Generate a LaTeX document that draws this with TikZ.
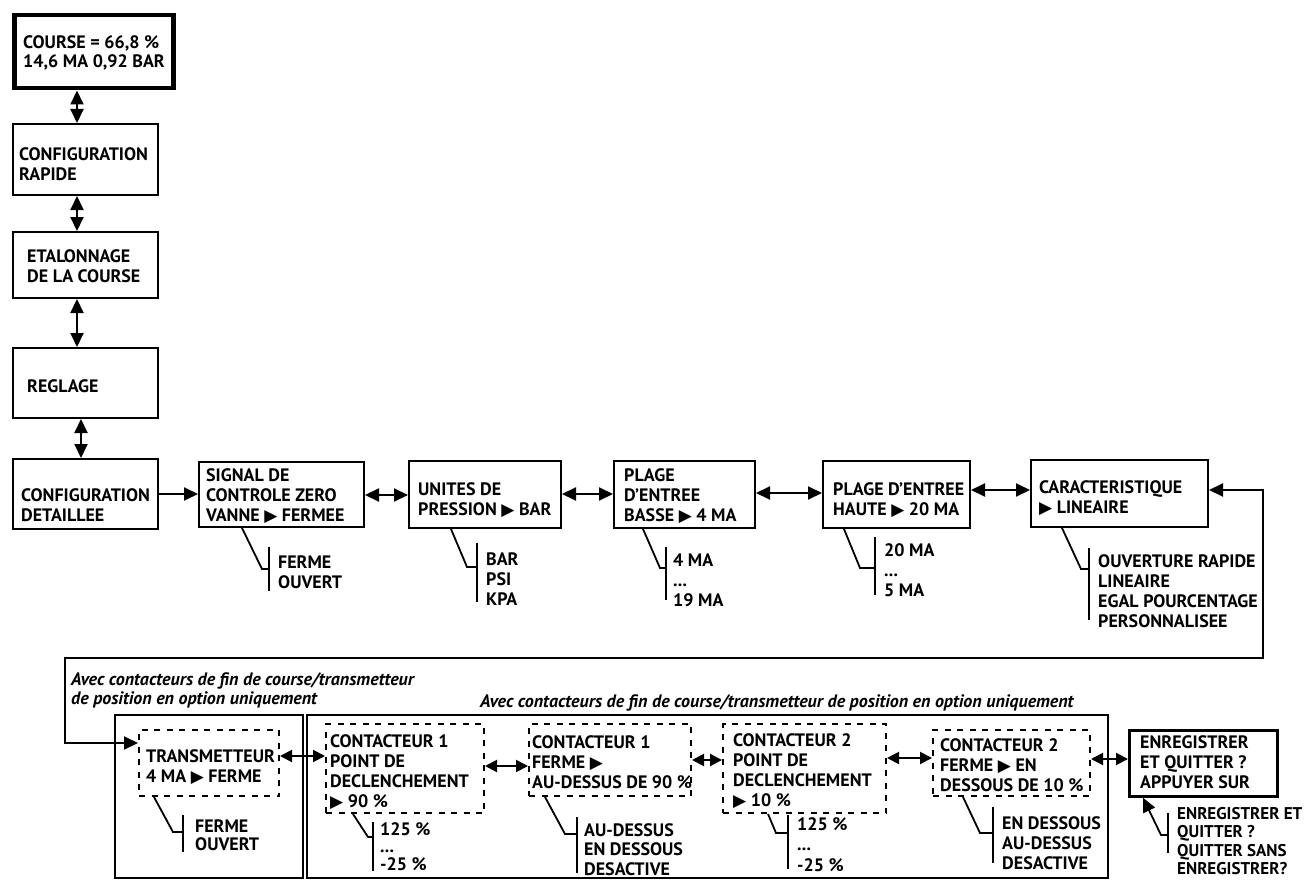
\documentclass[tikz,border=0pt]{standalone}
\usepackage{fontspec}
\setmainfont{PT Sans}
\newfontfamily\symfont{DejaVu Sans}
\usetikzlibrary{arrows.meta}
\newcommand\tri{{\symfont\fontsize{17}{20}\selectfont ▶}}
\begin{document}
\begin{tikzpicture}[x=1pt,y=-1pt,
  box/.style={draw, line width=2pt, anchor=north west, inner sep=0pt},
  dbox/.style={draw, line width=2pt, dash pattern=on 6pt off 6.5pt, anchor=north west, inner sep=0pt},
  txt/.style={anchor=north west, inner sep=0pt, align=left, font=\fontsize{18}{20}\selectfont\bfseries},
  lbl/.style={anchor=north west, inner sep=0pt, align=left, font=\fontsize{18}{19}\selectfont\bfseries\itshape},
  frame/.style={draw, line width=1.3pt},
  brk/.style={line width=1.8pt},
  arr/.style={line width=2pt, {Triangle[length=14pt,width=13pt]}-{Triangle[length=14pt,width=13pt]}},
  arrs/.style={line width=2pt, {Triangle[length=12pt,width=12pt]}-{Triangle[length=12pt,width=12pt]}},
  arr1/.style={line width=2pt, -{Triangle[length=14pt,width=13pt]}}
]
\useasboundingbox (0,0) rectangle (1307,880);

% ---------- left column ----------
\node[box, line width=4.5pt, minimum width=159pt, minimum height=73pt] (b0) at (12,13) {};
\node[txt, font=\fontsize{18}{19}\selectfont\bfseries] (b0t) at (23,35) {COURSE = 66,8 \%\\14,6 MA 0,92 BAR};
\node[box, minimum width=145pt, minimum height=71pt] (b1) at (12,123) {};
\node[txt] (b1t) at (19,147) {CONFIGURATION\\RAPIDE};
\node[box, minimum width=145pt, minimum height=66pt] (b2) at (12,231) {};
\node[txt] (b2t) at (27,249) {ETALONNAGE\\DE LA COURSE};
\node[box, minimum width=145pt, minimum height=70pt] (b3) at (12,347) {};
\node[txt] (b3t) at (27,379) {REGLAGE};
\node[box, minimum width=145pt, minimum height=70pt] (b4) at (12,458) {};
\node[txt] (b4t) at (21,488) {CONFIGURATION\\DETAILLEE};

\draw[arr] (b0.south -| 77,0) -- (b1.north -| 77,0);
\draw[arr] (b1.south -| 77,0) -- (b2.north -| 77,0);
\draw[arr] (b2.south -| 77,0) -- (b3.north -| 77,0);
\draw[arr] (b3.south -| 81,0) -- (b4.north -| 81,0);

% ---------- middle row ----------
\node[box, minimum width=165pt, minimum height=65pt] (b5) at (198,461) {};
\node[txt] (b5t) at (206,468) {SIGNAL DE\\CONTROLE ZERO\\VANNE \tri{} FERMEE};
\node[box, minimum width=152pt, minimum height=67pt] (b6) at (408,460) {};
\node[txt] (b6t) at (418,482) {UNITES DE\\PRESSION \tri{} BAR};
\node[box, minimum width=141pt, minimum height=67pt] (b7) at (613,460) {};
\node[txt] (b7t) at (624,468) {PLAGE\\D'ENTREE\\BASSE \tri{} 4 MA};
\node[box, minimum width=147pt, minimum height=67pt] (b8) at (822,460) {};
\node[txt] (b8t) at (833,482) {PLAGE D'ENTREE\\HAUTE \tri{} 20 MA};
\node[box, minimum width=177pt, minimum height=67pt] (b9) at (1030,459) {};
\node[txt] (b9t) at (1039,480) {CARACTERISTIQUE\\\tri{} LINEAIRE};

\draw[arr1] (b4.east |- 0,494) -- (b5.west |- 0,494);
\draw[arr] (b5.east |- 0,495) -- (b6.west |- 0,495);
\draw[arr] (b6.east |- 0,494) -- (b7.west |- 0,494);
\draw[arr] (b7.east |- 0,493) -- (b8.west |- 0,493);
\draw[arr] (b8.east |- 0,490) -- (b9.west |- 0,490);

% options, middle row
\node[txt] (o5) at (278,556) {FERME\\OUVERT};
\draw[brk] (b5.south -| 242,0) -- (262,569) -- (269,569);
\draw[brk] (269,547) -- (269,591);
\node[txt] (o6) at (486,553) {BAR\\PSI\\KPA};
\draw[brk] (b6.south -| 451,0) -- (467,567) -- (477,567);
\draw[brk] (477,543) -- (477,602);
\node[txt] (o7) at (673,554) {4 MA\\...\\19 MA};
\draw[brk] (b7.south -| 643,0) -- (660,568) -- (666,568);
\draw[brk] (666,547) -- (666,600);
\node[txt] (o8) at (884,543) {20 MA\\...\\5 MA};
\draw[brk] (b8.south -| 844,0) -- (860,568) -- (875,568);
\draw[brk] (875,537) -- (875,595);
\node[txt] (o9) at (1098,554) {OUVERTURE RAPIDE\\LINEAIRE\\EGAL POURCENTAGE\\PERSONNALISEE};
\draw[brk] (b9.south -| 1062,0) -- (1081,569) -- (1089,569);
\draw[brk] (1089,548) -- (1089,620);

% ---------- bottom row ----------
\draw[frame] (115,715) rectangle (303,878);
\draw[frame] (307,715) rectangle (1108,878);
\node[lbl] (l1) at (71,672) {Avec contacteurs de fin de course/transmetteur\\de position en option uniquement};
\node[lbl] (l2) at (480,694) {Avec contacteurs de fin de course/transmetteur de position en option uniquement};

\node[dbox, minimum width=140pt, minimum height=66pt] (t1) at (138,729) {};
\node[txt] (t1t) at (146,749) {TRANSMETTEUR\\4 MA \tri{} FERME};
\node[dbox, minimum width=158pt, minimum height=89pt] (t2) at (325,723) {};
\node[txt] (t2t) at (330,734) {CONTACTEUR 1\\POINT DE\\DECLENCHEMENT\\\tri{} 90 \%};
\node[dbox, minimum width=162pt, minimum height=72pt] (t3) at (528,723) {};
\node[txt] (t3t) at (532,735) {CONTACTEUR 1\\FERME \tri\\AU-DESSUS DE 90 \%};
\node[dbox, minimum width=163pt, minimum height=89pt] (t4) at (722,723) {};
\node[txt] (t4t) at (733,733) {CONTACTEUR 2\\POINT DE\\DECLENCHEMENT\\\tri{} 10 \%};
\node[dbox, minimum width=157pt, minimum height=66pt] (t5) at (932,729) {};
\node[txt] (t5t) at (940,738) {CONTACTEUR 2\\FERME \tri{} EN\\DESSOUS DE 10 \%};
\node[box, line width=2.8pt, minimum width=148pt, minimum height=66pt] (t6) at (1128,729) {};
\node[txt] (t6t) at (1140,735) {ENREGISTRER\\ET QUITTER ?\\APPUYER SUR};

\coordinate (lp1) at (1263,490);
\coordinate (lp2) at (1263,658);
\coordinate (lp3) at (65,658);
\coordinate (lp4) at (65,743);
\draw[arr] (b9.east |- lp1) -- (lp1) -- (lp2) -- (lp3) -- (lp4) -- (t1.west |- lp4);

\draw[arrs] (t1.east |- 0,756) -- (t2.west |- 0,756);
\draw[arrs] (t2.east |- 0,766) -- (t3.west |- 0,766);
\draw[arrs] (t3.east |- 0,760) -- (t4.west |- 0,760);
\draw[arrs] (t4.east |- 0,758) -- (t5.west |- 0,758);
\draw[arrs] (t5.east |- 0,759) -- (t6.west |- 0,759);

% options, bottom row
\node[txt, font=\fontsize{18}{18}\selectfont\bfseries] (ot1) at (195,820) {FERME\\OUVERT};
\draw[brk] (t1.south -| 154,0) -- (173,832) -- (183,832);
\draw[brk] (183,815) -- (183,852);
\node[txt, font=\fontsize{18}{17.5}\selectfont\bfseries] (ot2) at (380,822) {125 \%\\...\\-25 \%};
\draw[brk] (t2.south -| 353,0) -- (368,837) -- (373,837);
\draw[brk] (373,822) -- (373,871);
\node[txt, font=\fontsize{18}{19.5}\selectfont\bfseries] (ot3) at (584,823) {AU-DESSUS\\EN DESSOUS\\DESACTIVE};
\draw[brk] (t3.south -| 545,0) -- (565,834) -- (577,834);
\draw[brk] (577,817) -- (577,873);
\node[txt, font=\fontsize{18}{20.5}\selectfont\bfseries] (ot4) at (797,817) {125 \%\\...\\-25 \%};
\draw[brk] (t4.south -| 768,0) -- (776,833) -- (788,833);
\draw[brk] (788,815) -- (788,869);
\node[txt] (ot5) at (1002,816) {EN DESSOUS\\AU-DESSUS\\DESACTIVE};
\draw[brk] (t5.south -| 963,0) -- (980,833) -- (993,833);
\draw[brk] (993,807) -- (993,863);
\node[txt, font=\fontsize{17}{18.5}\selectfont\bfseries] (ot6) at (1177,807) {ENREGISTRER ET\\QUITTER ?\\QUITTER SANS\\ENREGISTRER?};
\coordinate (e1) at (1168,835);
\coordinate (e2) at (1161,835);
\draw[brk, -{Triangle[length=14pt,width=13pt]}] (e1) -- (e2) -- (t6.south -| 1143,0);
\draw[brk] (1168,813) -- (1168,853);
\end{tikzpicture}
\end{document}
